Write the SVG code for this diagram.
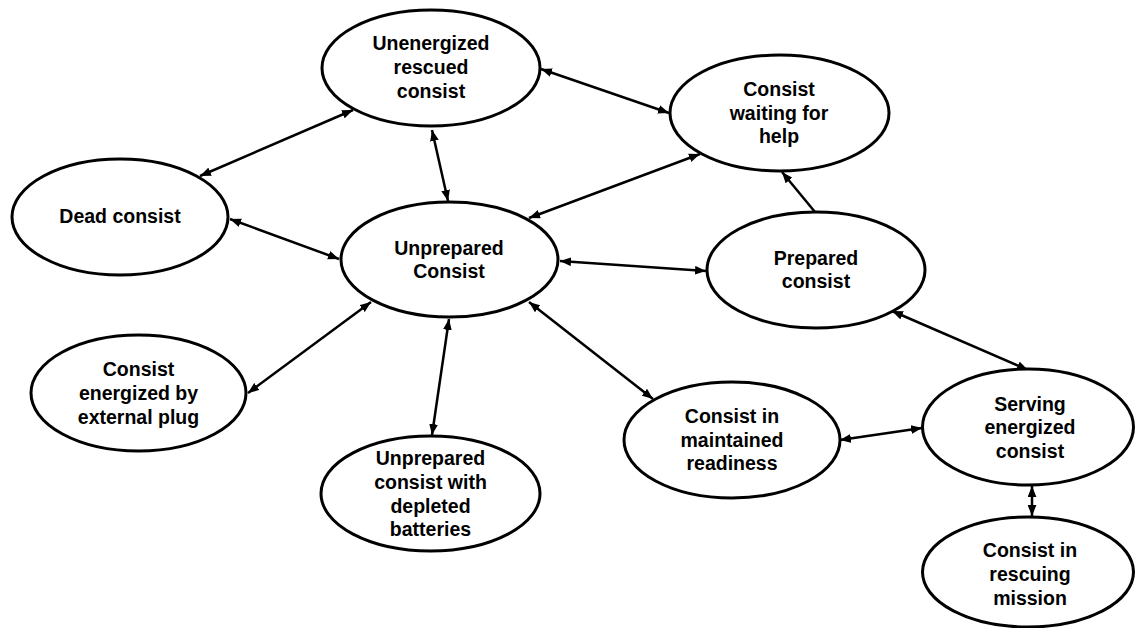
<svg xmlns="http://www.w3.org/2000/svg" width="1135" height="628" viewBox="0 0 1135 628">
<style>
.node ellipse{fill:#fff;stroke:#000;stroke-width:3}
.node text{font-family:"Liberation Sans",Arial,sans-serif;font-weight:bold;font-size:19.5px;fill:#000;text-anchor:middle}
.edge{fill:none;stroke:#000;stroke-width:2.5}
</style>
<defs>
<marker id="ah" viewBox="0 0 10 8" refX="10" refY="4" markerWidth="11" markerHeight="9" markerUnits="userSpaceOnUse" orient="auto-start-reverse">
<path d="M0,0 L10,4 L0,8 Z" fill="#000"/>
</marker>
</defs>
<rect width="1135" height="628" fill="#fff"/>
<g id="connectors">
<path class="edge" d="M200,176 L353,110" marker-start="url(#ah)" marker-end="url(#ah)"/>
<path class="edge" d="M432,130 L448,201" marker-start="url(#ah)" marker-end="url(#ah)"/>
<path class="edge" d="M541,69 L669,113" marker-start="url(#ah)" marker-end="url(#ah)"/>
<path class="edge" d="M529,218 L700,154" marker-start="url(#ah)" marker-end="url(#ah)"/>
<path class="edge" d="M230,219 L339,259" marker-start="url(#ah)" marker-end="url(#ah)"/>
<path class="edge" d="M560,261 L706,271" marker-start="url(#ah)" marker-end="url(#ah)"/>
<path class="edge" d="M815,212 L782,172" marker-end="url(#ah)"/>
<path class="edge" d="M371,302 L248,393" marker-start="url(#ah)" marker-end="url(#ah)"/>
<path class="edge" d="M449,319 L432,435" marker-start="url(#ah)" marker-end="url(#ah)"/>
<path class="edge" d="M529,302 L653,399" marker-start="url(#ah)" marker-end="url(#ah)"/>
<path class="edge" d="M892,311 L1028,370" marker-start="url(#ah)" marker-end="url(#ah)"/>
<path class="edge" d="M840,440 L922,428" marker-start="url(#ah)" marker-end="url(#ah)"/>
<path class="edge" d="M1032,486 L1032,516" marker-start="url(#ah)" marker-end="url(#ah)"/>
</g>
<g id="n-unenergized" class="node"><ellipse cx="431" cy="68" rx="109" ry="58"/><text x="431" y="50">Unenergized</text><text x="431" y="74">rescued</text><text x="431" y="98">consist</text></g>
<g id="n-waiting" class="node"><ellipse cx="779.5" cy="113" rx="109.5" ry="58"/><text x="779" y="96">Consist</text><text x="779" y="120">waiting for</text><text x="779" y="143">help</text></g>
<g id="n-dead" class="node"><ellipse cx="120" cy="217" rx="108" ry="58"/><text x="120" y="223">Dead consist</text></g>
<g id="n-unprepared" class="node"><ellipse cx="449.5" cy="259.5" rx="108.5" ry="57.5"/><text x="449" y="255">Unprepared</text><text x="449" y="278">Consist</text></g>
<g id="n-prepared" class="node"><ellipse cx="816" cy="270" rx="109" ry="58"/><text x="816" y="265">Prepared</text><text x="816" y="288">consist</text></g>
<g id="n-external" class="node"><ellipse cx="138.5" cy="393" rx="107.5" ry="58"/><text x="138.5" y="376">Consist</text><text x="138.5" y="400">energized by</text><text x="138.5" y="424">external plug</text></g>
<g id="n-depleted" class="node"><ellipse cx="430.5" cy="493.5" rx="109.5" ry="57.5"/><text x="430.5" y="465">Unprepared</text><text x="430.5" y="489">consist with</text><text x="430.5" y="513">depleted</text><text x="430.5" y="536">batteries</text></g>
<g id="n-maintained" class="node"><ellipse cx="732" cy="440" rx="108" ry="58"/><text x="732" y="423">Consist in</text><text x="732" y="447">maintained</text><text x="732" y="470">readiness</text></g>
<g id="n-serving" class="node"><ellipse cx="1028" cy="427" rx="105.5" ry="58"/><text x="1030" y="411">Serving</text><text x="1030" y="434">energized</text><text x="1030" y="458">consist</text></g>
<g id="n-rescuing" class="node"><ellipse cx="1028" cy="572" rx="105.5" ry="55"/><text x="1030" y="557">Consist in</text><text x="1030" y="581">rescuing</text><text x="1030" y="605">mission</text></g>
</svg>
